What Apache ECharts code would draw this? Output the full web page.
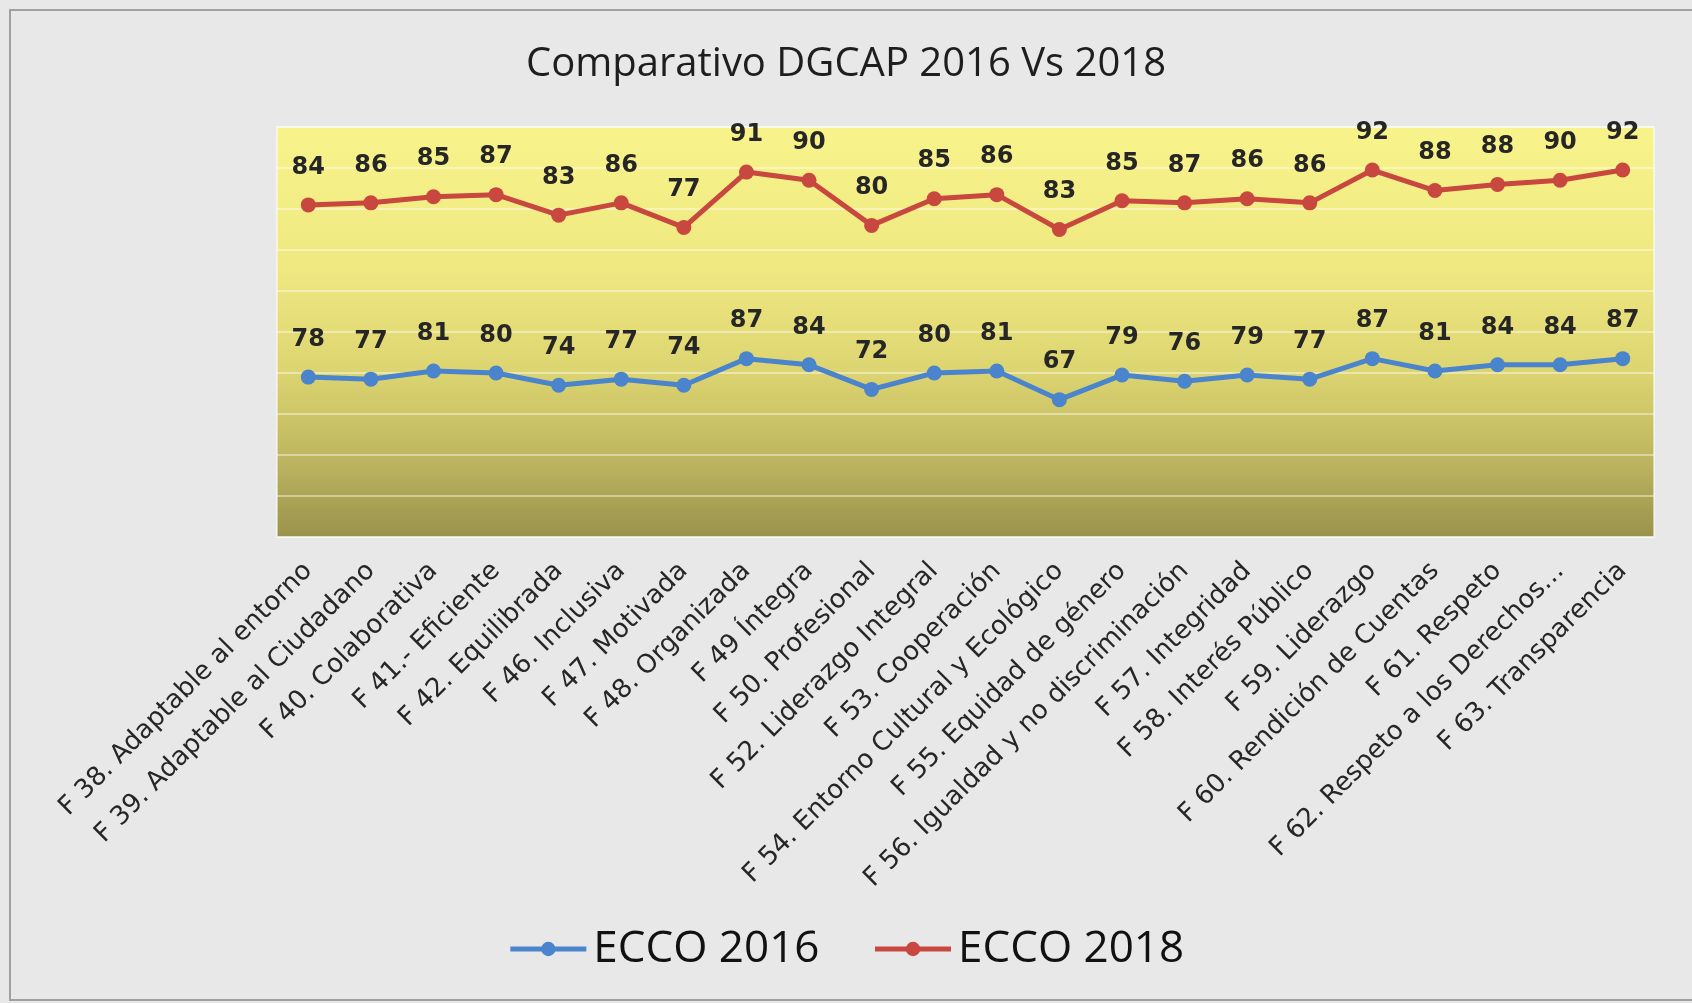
<!DOCTYPE html>
<html>
<head>
<meta charset="utf-8">
<script src="https://cdn.jsdelivr.net/npm/echarts@6/dist/echarts.min.js"></script>
<style>
html,body{margin:0;padding:0;background:#e8e8e8;}
#chart{width:1692px;height:1003px;background:#e8e8e8;}
</style>
</head>
<body>
<div id="chart"></div>
<script>
const categories = [
  "F 38. Adaptable al entorno",
  "F 39. Adaptable al Ciudadano",
  "F 40. Colaborativa",
  "F 41.- Eficiente",
  "F 42. Equilibrada",
  "F 46. Inclusiva",
  "F 47. Motivada",
  "F 48. Organizada",
  "F 49 Íntegra",
  "F 50. Profesional",
  "F 52. Liderazgo Integral",
  "F 53. Cooperación",
  "F 54. Entorno Cultural y Ecológico",
  "F 55. Equidad de género",
  "F 56. Igualdad y no discriminación",
  "F 57. Integridad",
  "F 58. Interés Público",
  "F 59. Liderazgo",
  "F 60. Rendición de Cuentas",
  "F 61. Respeto",
  "F 62. Respeto a los Derechos…",
  "F 63. Transparencia"
];
const ecco2016 = [78, 77, 81, 80, 74, 77, 74, 87, 84, 72, 80, 81, 67, 79, 76, 79, 77, 87, 81, 84, 84, 87];
const ecco2018 = [84, 86, 85, 87, 83, 86, 77, 91, 90, 80, 85, 86, 83, 85, 87, 86, 86, 92, 88, 88, 90, 92];
const seriesNames = ["ECCO 2016", "ECCO 2018"];
const titleText = "Comparativo DGCAP 2016 Vs 2018";

const chart = echarts.init(document.getElementById('chart'), null, {renderer: 'canvas'});
const labelFont = 'DejaVu Sans';
const blue = '#4a84cc';
const red = '#c8473f';
const dataLabel = {show: true, position: 'top', distance: 18, fontFamily: labelFont, fontSize: 24, fontWeight: 'bold', color: '#262626'};
const option = {
  animation: false,
  backgroundColor: '#e8e8e8',
  graphic: [{
    type: 'rect',
    shape: {x: 10, y: 10, width: 1720, height: 990},
    style: {fill: 'none', stroke: '#a0a0a0', lineWidth: 2},
    silent: true
  }],
  title: {
    text: titleText,
    left: 'center',
    top: 40,
    textStyle: {fontFamily: 'Open Sans', fontSize: 40, fontWeight: 'normal', color: '#1e1e1e'}
  },
  legend: {
    data: seriesNames,
    left: 'center',
    top: 922,
    itemWidth: 76,
    itemHeight: 18,
    itemGap: 53,
    lineStyle: {width: 5},
    textStyle: {fontFamily: 'Open Sans', fontSize: 44, color: '#111', padding: [0,0,0,2]}
  },
  grid: {
    left: 277, right: 38, top: 127, bottom: 466,
    show: true,
    borderColor: 'rgba(255,255,255,0.5)',
    borderWidth: 2,
    backgroundColor: {
      type: 'linear', x: 0, y: 0, x2: 0, y2: 1,
      colorStops: [
        {offset: 0, color: '#f8f38a'},
        {offset: 0.35, color: '#efe881'},
        {offset: 0.6, color: '#dcd470'},
        {offset: 0.8, color: '#bfb760'},
        {offset: 1, color: '#99924b'}
      ]
    }
  },
  xAxis: {
    type: 'category',
    data: categories,
    boundaryGap: true,
    axisLine: {show: false},
    axisTick: {show: false},
    splitLine: {show: false},
    axisLabel: {
      interval: 0,
      rotate: 45,
      margin: 30,
      fontFamily: labelFont,
      fontSize: 26,
      color: '#262626'
    }
  },
  yAxis: {
    type: 'value',
    min: 0, max: 200, interval: 20,
    axisLine: {show: false},
    axisTick: {show: false},
    axisLabel: {show: false},
    splitLine: {show: true, lineStyle: {color: 'rgba(255,255,255,0.42)', width: 2}}
  },
  series: [
    {
      name: seriesNames[0],
      type: 'line',
      stack: 'total',
      data: ecco2016,
      symbol: 'circle',
      symbolSize: 15,
      lineStyle: {color: blue, width: 5},
      itemStyle: {color: blue},
      label: dataLabel
    },
    {
      name: seriesNames[1],
      type: 'line',
      stack: 'total',
      data: ecco2018,
      symbol: 'circle',
      symbolSize: 15,
      lineStyle: {color: red, width: 5},
      itemStyle: {color: red},
      label: dataLabel
    }
  ]
};
chart.setOption(option);
</script>
</body>
</html>
